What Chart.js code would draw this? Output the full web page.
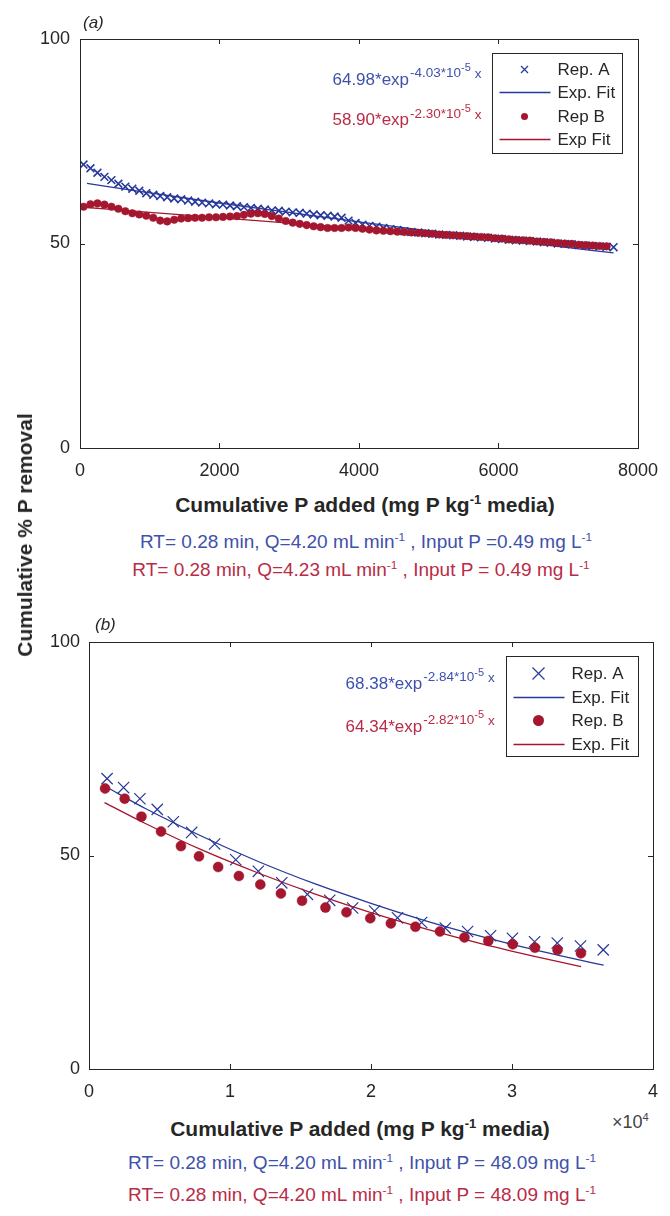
<!DOCTYPE html>
<html>
<head>
<meta charset="utf-8">
<script src="https://cdn.jsdelivr.net/npm/chart.js@4.4.1/dist/chart.umd.min.js"></script>
<style>
  body { margin: 0; background: #fff; }
  #page { position: relative; width: 670px; height: 1216px; overflow: hidden;
          font-family: "Liberation Sans", Arial, sans-serif; color: #262626; }
  canvas { position: absolute; left: 0; }
  .txt { position: absolute; width: 600px; text-align: center; white-space: nowrap; line-height: 24px; }
  .txt sup, .mult sup { font-size: 0.62em; vertical-align: baseline; position: relative; top: -0.6em; }
  .xlab { font-size: 21px; font-weight: bold; }
  .cond { font-size: 19px; }
  .blue { color: #3e51ab; }
  .red { color: #b92b46; }
  .panel { position: absolute; font-size: 17px; font-style: italic; line-height: 24px; }
  .ytitle { position: absolute; left: 25px; top: 535px; font-size: 21px; font-weight: bold;
            white-space: nowrap; transform: translate(-50%, -50%) rotate(-90deg); }
  .mult { position: absolute; left: 612px; top: 1110px; font-size: 18px; line-height: 24px; color: #444; }
</style>
</head>
<body>
<div id="page">
  <canvas id="chartA" width="670" height="490" style="top:0;width:670px;height:490px"></canvas>
  <canvas id="chartB" width="670" height="500" style="top:600px;width:670px;height:500px"></canvas>

  <div class="panel" style="left:83px;top:11px">(a)</div>
  <div class="panel" style="left:95px;top:613px">(b)</div>
  <div class="ytitle">Cumulative % P removal</div>

  <div class="txt xlab" style="left:65px;top:493px">Cumulative P added (mg P kg<sup>-1</sup> media)</div>
  <div class="txt cond blue" style="left:66px;top:530px">RT= 0.28 min, Q=4.20 mL min<sup>-1</sup> , Input P =0.49 mg L<sup>-1</sup></div>
  <div class="txt cond red" style="left:61px;top:558px">RT= 0.28 min, Q=4.23 mL min<sup>-1</sup> , Input P = 0.49 mg L<sup>-1</sup></div>

  <div class="mult">&times;10<sup>4</sup></div>
  <div class="txt xlab" style="left:60px;top:1117px">Cumulative P added (mg P kg<sup>-1</sup> media)</div>
  <div class="txt cond blue" style="left:62px;top:1151px">RT= 0.28 min, Q=4.20 mL min<sup>-1</sup> , Input P = 48.09 mg L<sup>-1</sup></div>
  <div class="txt cond red" style="left:62px;top:1183px">RT= 0.28 min, Q=4.20 mL min<sup>-1</sup> , Input P = 48.09 mg L<sup>-1</sup></div>
</div>

<script>
const FONT = '"Liberation Sans", Arial, sans-serif';
const INK = "#262626";
const BLUE = "#27389a";
const RED = "#a5162f";
const BLUE_TXT = "#3e51ab";
const RED_TXT = "#b92b46";

// ---- panel (a): input P 0.49 mg/L ----
const addedA = [
  50, 150, 250, 350, 450, 550, 650, 750, 850, 950,
  1050, 1150, 1250, 1350, 1450, 1550, 1650, 1750, 1850, 1950,
  2050, 2150, 2250, 2350, 2450, 2550, 2650, 2750, 2850, 2950,
  3050, 3150, 3250, 3350, 3450, 3550, 3650, 3750, 3850, 3950,
  4050, 4150, 4250, 4350, 4450, 4550, 4650, 4750, 4850, 4950,
  5050, 5150, 5250, 5350, 5450, 5550, 5650, 5750, 5850, 5950,
  6050, 6150, 6250, 6350, 6450, 6550, 6650, 6750, 6850, 6950,
  7050, 7150, 7250, 7350, 7450, 7550, 7650,
];
const repA_a = [
  69.3, 68.4, 67.3, 66.3, 65.5, 64.6, 63.9, 63.4, 62.9, 62.3,
  61.9, 61.6, 61.3, 61.0, 60.8, 60.5, 60.2, 60.0, 59.8, 59.6,
  59.5, 59.3, 59.1, 58.9, 58.7, 58.5, 58.3, 58.1, 58.0, 57.8,
  57.6, 57.5, 57.3, 57.1, 56.9, 56.8, 56.6, 56.3, 55.6, 55.0,
  54.6, 54.3, 54.1, 53.8, 53.5, 53.3, 53.0, 52.8, 52.7, 52.5,
  52.4, 52.2, 52.1, 52.0, 51.9, 51.7, 51.6, 51.5, 51.4, 51.2,
  51.1, 50.9, 50.8, 50.7, 50.6, 50.5, 50.3, 50.2, 50.0, 49.9,
  49.8, 49.6, 49.5, 49.4, 49.3, 49.2, 49.1,
];
const repB_a = [
  59.0, 59.6, 59.8, 59.5, 59.0, 58.5, 57.9, 57.4, 57.1, 56.8,
  56.3, 55.6, 55.4, 55.8, 56.1, 56.2, 56.3, 56.3, 56.4, 56.4,
  56.5, 56.6, 56.7, 57.0, 57.3, 57.4, 57.2, 56.7, 56.1, 55.5,
  55.1, 54.8, 54.5, 54.2, 54.0, 53.8, 53.8, 53.8, 53.9, 53.8,
  53.6, 53.4, 53.2, 53.1, 53.0, 52.9, 52.8, 52.7, 52.6, 52.5,
  52.4, 52.2, 52.1, 52.0, 51.9, 51.8, 51.7, 51.6, 51.5, 51.3,
  51.2, 51.0, 50.9, 50.8, 50.7, 50.5, 50.4, 50.3, 50.1, 50.0,
  49.9, 49.7, 49.6, 49.5, 49.4, 49.3,
];
const fitAx_a = [100, 1000, 2000, 3000, 4000, 5000, 6000, 7000, 7650];
const fitA_a = [64.7, 62.4, 59.9, 57.6, 55.3, 53.1, 51.0, 49.0, 47.7];
const fitBx_a = [100, 1000, 2000, 3000, 4000, 5000, 6000, 7000, 7550];
const fitB_a = [58.8, 57.6, 56.3, 55.0, 53.7, 52.5, 51.3, 50.1, 49.5];
const eqA_a = { coef: "64.98", rate: "-4.03" };
const eqB_a = { coef: "58.90", rate: "-2.30" };

// ---- panel (b): input P 48.09 mg/L ----
const addedA_b = [
  1280, 2450, 3610, 4840, 5980, 7280, 8910, 10410, 12010, 13670, 15490, 17070,
  18700, 20250, 21880, 23590, 25270, 26850, 28480, 30030, 31600, 33210, 34860, 36470,
];
const repA_b = [
  68.0, 65.9, 63.3, 60.8, 57.9, 55.4, 52.7, 49.0, 46.3, 43.6, 40.9, 39.5,
  37.7, 37.0, 35.4, 34.3, 33.0, 32.2, 31.2, 30.6, 29.8, 29.5, 28.8, 27.9,
];
const addedB_b = [
  1140, 2530, 3720, 5110, 6520, 7800, 9160, 10630, 12150, 13610, 15110, 16770,
  18260, 19950, 21410, 23150, 24890, 26630, 28320, 30050, 31630, 33230, 34890,
];
const repB_b = [
  65.7, 63.3, 59.1, 55.6, 52.2, 49.8, 47.3, 45.2, 43.2, 41.1, 39.4, 37.8,
  36.7, 35.3, 34.1, 33.3, 32.2, 30.8, 30.0, 29.2, 28.4, 27.9, 27.1,
];
const fitAx_b = [1200, 4000, 8000, 12000, 16000, 20000, 24000, 28000, 32000, 36500];
const fitA_b = [66.1, 61.0, 54.5, 48.6, 43.4, 38.8, 34.6, 30.9, 27.6, 24.3];
const fitBx_b = [1100, 4000, 8000, 12000, 16000, 20000, 24000, 28000, 32000, 34900];
const fitB_b = [62.4, 57.5, 51.3, 45.9, 41.0, 36.6, 32.7, 29.2, 26.1, 24.0];
const eqA_b = { coef: "68.38", rate: "-2.84" };
const eqB_b = { coef: "64.34", rate: "-2.82" };

const pts = (xs, ys) => ys.map((y, i) => ({ x: xs[i], y }));

// MATLAB-style box: frame on all four sides, ticks pointing inward
const boxAxes = {
  id: "boxAxes",
  afterDatasetsDraw(chart) {
    const { ctx, chartArea: a, scales } = chart;
    const TL = 5;
    ctx.save();
    ctx.strokeStyle = INK;
    ctx.lineWidth = 1;
    ctx.beginPath();
    scales.x.ticks.forEach((t) => {
      const px = Math.round(scales.x.getPixelForValue(t.value)) + 0.5;
      if (px <= a.left + 2 || px >= a.right - 2) return;
      ctx.moveTo(px, a.bottom); ctx.lineTo(px, a.bottom - TL);
      ctx.moveTo(px, a.top); ctx.lineTo(px, a.top + TL);
    });
    scales.y.ticks.forEach((t) => {
      const py = Math.round(scales.y.getPixelForValue(t.value)) + 0.5;
      if (py <= a.top + 2 || py >= a.bottom - 2) return;
      ctx.moveTo(a.left, py); ctx.lineTo(a.left + TL, py);
      ctx.moveTo(a.right, py); ctx.lineTo(a.right - TL, py);
    });
    ctx.stroke();
    ctx.strokeRect(Math.round(a.left) + 0.5, Math.round(a.top) + 0.5,
                   Math.round(a.width), Math.round(a.height));
    ctx.restore();
  },
};

function drawEq(ctx, x, y, color, eq) {
  ctx.fillStyle = color;
  ctx.textAlign = "left";
  ctx.textBaseline = "middle";
  const main = eq.coef + "*exp";
  ctx.font = `17px ${FONT}`;
  ctx.fillText(main, x, y);
  x += ctx.measureText(main).width + 1;
  const sup = eq.rate + "*10";
  ctx.font = `13.5px ${FONT}`;
  ctx.fillText(sup, x, y - 7);
  x += ctx.measureText(sup).width;
  ctx.font = `11px ${FONT}`;
  ctx.fillText("-5", x, y - 12);
  x += ctx.measureText("-5").width + 4;
  ctx.font = `13.5px ${FONT}`;
  ctx.fillText("x", x, y - 6);
}

function drawMarker(ctx, style, cx, cy, size, color) {
  ctx.save();
  ctx.strokeStyle = color;
  ctx.fillStyle = color;
  if (style === "crossRot") {
    ctx.lineWidth = 1.2;
    ctx.beginPath();
    ctx.moveTo(cx - size, cy - size); ctx.lineTo(cx + size, cy + size);
    ctx.moveTo(cx - size, cy + size); ctx.lineTo(cx + size, cy - size);
    ctx.stroke();
  } else {
    ctx.beginPath();
    ctx.arc(cx, cy, size, 0, Math.PI * 2);
    ctx.fill();
  }
  ctx.restore();
}

// equations + boxed legend inside the axes
const annotations = {
  id: "annotations",
  afterDraw(chart, args, opts) {
    const { ctx, chartArea: a, scales } = chart;
    ctx.save();
    opts.eqs.forEach((e) => {
      drawEq(ctx, scales.x.getPixelForValue(e.x), scales.y.getPixelForValue(e.y), e.color, e.eq);
    });

    const L = opts.legend;
    const bx = Math.round(a.right - L.dx - L.w) + 0.5;
    const by = Math.round(a.top + L.dy) + 0.5;
    ctx.fillStyle = "#fff";
    ctx.fillRect(bx, by, L.w, L.h);
    ctx.strokeStyle = INK;
    ctx.lineWidth = 1;
    ctx.strokeRect(bx, by, L.w, L.h);
    ctx.font = `17px ${FONT}`;
    ctx.textAlign = "left";
    ctx.textBaseline = "middle";
    chart.data.datasets.forEach((ds, i) => {
      const cy = by + L.rows[i];
      if (ds.showLine) {
        ctx.strokeStyle = ds.borderColor;
        ctx.lineWidth = 1.3;
        ctx.beginPath();
        ctx.moveTo(bx + 7, cy); ctx.lineTo(bx + 58, cy);
        ctx.stroke();
      } else {
        drawMarker(ctx, ds.pointStyle, bx + 32, cy,
          ds.pointStyle === "crossRot" ? L.cross : L.dot, ds.borderColor);
      }
      ctx.fillStyle = INK;
      ctx.fillText(ds.label, bx + 65, cy + 1);
    });
    ctx.restore();
  },
};

function makePanel(id, cfg) {
  const tickFont = { family: FONT, size: 18 };
  return new Chart(document.getElementById(id), {
    type: "scatter",
    data: {
      datasets: [
        {
          label: "Rep. A", data: cfg.repA, pointStyle: "crossRot",
          pointRadius: cfg.crossR, borderColor: BLUE, backgroundColor: BLUE,
          pointBorderWidth: cfg.crossW, order: 4,
        },
        {
          label: cfg.fitLabels[0], data: cfg.fitA, showLine: true, pointRadius: 0,
          borderColor: BLUE, borderWidth: 1.3, cubicInterpolationMode: "monotone", order: 3,
        },
        {
          label: cfg.repBLabel, data: cfg.repB, pointStyle: "circle",
          pointRadius: cfg.dotR, borderColor: RED, backgroundColor: RED,
          pointBorderWidth: 0.5, order: 2,
        },
        {
          label: cfg.fitLabels[1], data: cfg.fitB, showLine: true, pointRadius: 0,
          borderColor: RED, borderWidth: 1.3, cubicInterpolationMode: "monotone", order: 1,
        },
      ],
    },
    options: {
      responsive: false,
      animation: false,
      events: [],
      layout: { padding: cfg.padding },
      scales: {
        x: {
          type: "linear", min: 0, max: cfg.xMax,
          grid: { display: false, drawTicks: false },
          border: { display: false },
          ticks: {
            stepSize: cfg.xStep, font: tickFont, color: INK, padding: 12, maxRotation: 0,
            callback: cfg.xFmt,
          },
          afterFit: (s) => { s.height = cfg.xH; },
        },
        y: {
          min: 0, max: 100,
          grid: { display: false, drawTicks: false },
          border: { display: false },
          ticks: { stepSize: 50, font: tickFont, color: INK, padding: cfg.yPad },
          afterFit: (s) => { s.width = cfg.yW; },
        },
      },
      plugins: {
        legend: { display: false },
        tooltip: { enabled: false },
        annotations: {
          eqs: cfg.eqs,
          legend: cfg.legend,
        },
      },
    },
    plugins: [boxAxes, annotations],
  });
}

makePanel("chartA", {
  repA: pts(addedA, repA_a),
  repB: pts(addedA, repB_a),
  fitA: pts(fitAx_a, fitA_a),
  fitB: pts(fitBx_a, fitB_a),
  repBLabel: "Rep B",
  fitLabels: ["Exp. Fit", "Exp Fit"],
  crossR: 5.5, crossW: 1.6, dotR: 3.8,
  xMax: 8000, xStep: 2000, xFmt: (v) => v,
  padding: { left: 0, right: 22, top: 39, bottom: 0 },
  xH: 42, yW: 80, yPad: 10,
  eqs: [
    { x: 3620, y: 90, color: BLUE_TXT, eq: eqA_a },
    { x: 3620, y: 80, color: RED_TXT, eq: eqB_a },
  ],
  legend: { dx: 16, dy: 14, w: 130, h: 100, rows: [16, 39, 63, 86], cross: 3.5, dot: 3.5 },
});

makePanel("chartB", {
  repA: pts(addedA_b, repA_b),
  repB: pts(addedB_b, repB_b),
  fitA: pts(fitAx_b, fitA_b),
  fitB: pts(fitBx_b, fitB_b),
  repBLabel: "Rep. B",
  fitLabels: ["Exp. Fit", "Exp. Fit"],
  crossR: 8, crossW: 1.2, dotR: 5,
  xMax: 40000, xStep: 10000, xFmt: (v) => v / 10000,
  padding: { left: 0, right: 15, top: 42, bottom: 0 },
  xH: 31, yW: 89, yPad: 9,
  eqs: [
    { x: 18200, y: 90, color: BLUE_TXT, eq: eqA_b },
    { x: 18200, y: 80, color: RED_TXT, eq: eqB_b },
  ],
  legend: { dx: 15, dy: 14, w: 132, h: 100, rows: [17, 41, 64, 88], cross: 6, dot: 5.5 },
});
</script>
</body>
</html>
